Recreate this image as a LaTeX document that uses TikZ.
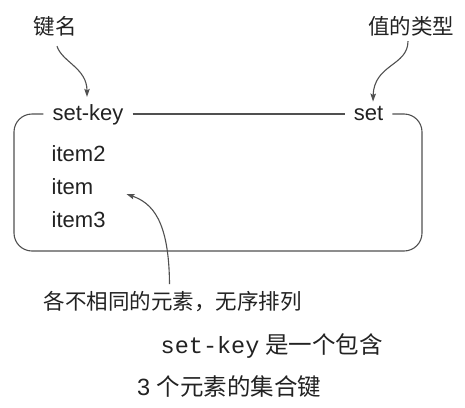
\documentclass[tikz,border=0pt]{standalone}
\usepackage{fontspec}
\setmainfont{Liberation Sans}
\newfontfamily\cjk{Noto Sans CJK SC}
\newfontfamily\monofam{Liberation Mono}
\usetikzlibrary{arrows.meta}
\definecolor{inkdark}{HTML}{222222}
\definecolor{linegray}{HTML}{505050}
\begin{document}
\begin{tikzpicture}[x=1pt,y=-1pt,
  every node/.style={text=inkdark,inner sep=0pt},
  cjklabel/.style={font=\cjk\fontsize{21.5}{26}\selectfont},
  keylabel/.style={font=\fontsize{22}{26}\selectfont,inner xsep=9pt,inner ysep=0pt},
  member/.style={font=\fontsize{22}{26}\selectfont,anchor=base west},
  caption/.style={font=\fontsize{23.5}{28}\selectfont,anchor=base west},
  frame/.style={draw=linegray,line width=1.1pt},
  pointer/.style={draw=linegray,line width=1.1pt,
    -{Stealth[length=8pt,width=5.5pt,inset=1.5pt]}}]
\useasboundingbox (0,0) rectangle (465,407);

% labels above the key
\node[cjklabel] (keyname) at (55,26) {键名};
\node[cjklabel] (valtype) at (411,26) {值的类型};

% key name and value type on the top edge of the set
\node[keylabel,anchor=base] (setkey) at (88,120) {set-key};
\node[keylabel,anchor=base] (settype) at (368.5,120) {set};
\coordinate (topline) at (0,114);
\draw[frame] (setkey.east |- topline) -- (settype.west |- topline);
\draw[frame,rounded corners=18pt] (setkey.west |- topline) -- (14,114)
  -- (14,251) -- (422,251) -- (422,114) -- (settype.east |- topline);

% members of the set
\node[member] (item2) at (51.5,161) {item2};
\node[member] (item)  at (51.5,194) {item};
\node[member] (item3) at (51.5,227) {item3};

% note below the set
\node[cjklabel] (note) at (172.5,302) {各不相同的元素，无序排列};

% pointers
\draw[pointer] ([shift={(2,10)}]keyname.south)
  .. controls (62,62) and (87,68) .. ([shift={(-1,-7)}]setkey.north);
\draw[pointer] ([shift={(-3,5)}]valtype.south)
  .. controls (408,66) and (374,64) .. ([shift={(4.5,-4)}]settype.north);
\draw[pointer] ([shift={(-3,-7.5)}]note.north)
  .. controls (169,220) and (152,203) .. ([shift={(33,0)}]item.base east);

% caption
\node[caption] (cap1) at (160.5,353)
  {{\monofam set-key}\hspace{6pt}{\cjk 是一个包含}};
\node[caption] (cap2) at (137,395) {3 {\cjk 个元素的集合键}};
\end{tikzpicture}
\end{document}
